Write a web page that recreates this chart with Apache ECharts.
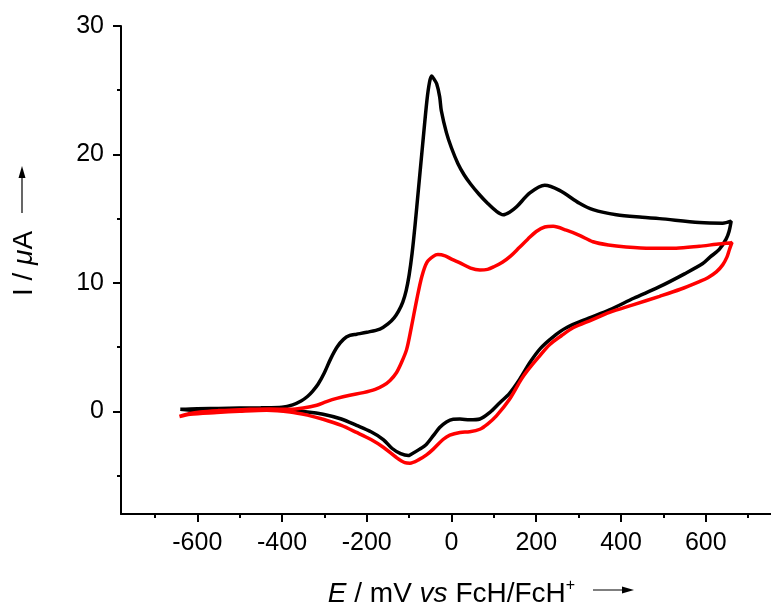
<!DOCTYPE html>
<html>
<head>
<meta charset="utf-8">
<script src="https://cdn.jsdelivr.net/npm/echarts@6/dist/echarts.min.js"></script>
<style>
  html, body { margin: 0; padding: 0; background: #fff; }
  #chart { width: 771px; height: 606px; }
</style>
</head>
<body>
<div id="chart"></div>
<script>
// Cyclic voltammograms: potential E (mV vs FcH/FcH+) and current I (µA)
const blackE = [-640, -600, -550, -500, -450, -400, -375, -355, -340, -328, -315, -300, -285, -270, -255, -240, -224, -200, -169, -150, -135, -125, -115, -107, -100, -93, -86, -78, -68, -58, -52, -47, -42, -35, -28, -24, -12, 0, 15, 30, 45, 65, 85, 105, 122, 137, 153, 185, 220, 255, 302, 334, 389, 450, 491, 585, 640, 660,
  655, 648, 632, 610, 593, 550, 491, 430, 373, 320, 271, 240, 210, 185, 161, 137, 114, 90, 67, 43, 20, 4, -12, -28, -43, -59, -75, -98, -102, -120, -140, -161, -190, -224, -260, -303, -340, -381, -430, -475, -550, -600, -640];
const blackI = [0.15, 0.2, 0.22, 0.25, 0.27, 0.32, 0.5, 0.8, 1.15, 1.55, 2.1, 3.0, 4.1, 5.0, 5.6, 5.9, 6.0, 6.15, 6.4, 6.8, 7.3, 7.8, 8.5, 9.4, 10.6, 12.3, 14.5, 17.3, 20.8, 24.2, 25.6, 26.1, 25.9, 25.5, 24.5, 23.4, 21.7, 20.5, 19.3, 18.4, 17.7, 16.9, 16.2, 15.6, 15.3, 15.5, 15.9, 17.0, 17.6, 17.2, 16.2, 15.7, 15.3, 15.1, 15.0, 14.7, 14.65, 14.8,
  14.0, 13.4, 12.6, 12.0, 11.5, 10.7, 9.7, 8.8, 7.9, 7.2, 6.5, 5.8, 4.9, 3.8, 2.5, 1.4, 0.67, -0.1, -0.6, -0.67, -0.6, -0.62, -0.83, -1.27, -1.9, -2.56, -2.95, -3.4, -3.45, -3.3, -2.9, -2.2, -1.6, -1.1, -0.6, -0.23, -0.05, 0.05, 0.1, 0.1, 0.05, 0.05, 0.15];

const redE = [-642, -620, -593, -550, -500, -475, -430, -381, -350, -318, -295, -271, -240, -208, -180, -161, -145, -130, -118, -106, -95, -82, -70, -58, -43, -32, -15, 0, 20, 45, 67, 85, 100, 120, 140, 160, 180, 200, 220, 240, 271, 302, 334, 370, 412, 470, 530, 585, 625, 656, 662,
  656, 650, 640, 625, 605, 585, 540, 491, 430, 373, 330, 287, 260, 232, 205, 180, 165, 137, 106, 85, 67, 43, 20, -4, -20, -43, -59, -75, -98, -110, -130, -161, -190, -224, -260, -303, -340, -381, -436, -500, -554, -617, -642];
const redI = [-0.41, -0.2, -0.05, 0.05, 0.12, 0.15, 0.17, 0.15, 0.25, 0.47, 0.75, 1.0, 1.25, 1.45, 1.7, 2.0, 2.4, 3.0, 3.8, 4.8, 6.5, 8.7, 10.5, 11.6, 12.06, 12.2, 12.1, 11.85, 11.55, 11.15, 11.0, 11.05, 11.25, 11.6, 12.1, 12.75, 13.4, 14.0, 14.35, 14.4, 14.1, 13.7, 13.2, 12.95, 12.8, 12.7, 12.7, 12.85, 13.0, 13.1, 13.15,
  12.6, 12.0, 11.4, 10.85, 10.4, 10.1, 9.5, 8.95, 8.3, 7.7, 7.1, 6.5, 5.9, 5.2, 4.2, 3.2, 2.5, 0.93, -0.36, -1.0, -1.4, -1.6, -1.65, -1.86, -2.2, -2.95, -3.4, -3.73, -4.04, -4.0, -3.6, -2.8, -2.2, -1.65, -1.1, -0.62, -0.3, -0.05, 0.08, 0.0, -0.1, -0.23, -0.41];

// Axis ticks
const xMajorTicks = [-600, -400, -200, 0, 200, 400, 600];
const xMinorTicks = [-700, -500, -300, -100, 100, 300, 500, 700];
const yMajorTicks = [0, 10, 20, 30];
const yMinorTicks = [-5, 5, 15, 25];

const FONT = 'Liberation Sans, Arial, Helvetica, sans-serif';
const pairs = (xs, ys) => xs.map((x, i) => [x, ys[i]]);

const chart = echarts.init(document.getElementById('chart'), null, { renderer: 'canvas' });

const tickStyle = { color: '#000', width: 2 };

// an axis that only carries tick marks at the given values
function tickAxis(range, values, length, position) {
  return {
    type: 'value', min: range[0], max: range[1], position: position,
    splitLine: { show: false },
    axisLine: { show: false, onZero: false },
    axisTick: { show: true, inside: false, length: length, customValues: values, lineStyle: tickStyle },
    axisLabel: { show: false }
  };
}

const xRange = [-780, 780];
const yRange = [-8, 30];

chart.setOption({
  animation: false,
  backgroundColor: '#fff',
  grid: { left: 121, top: 26, width: 661, height: 488, outerBoundsMode: 'none', containLabel: false },
  xAxis: [
    {
      type: 'value', min: xRange[0], max: xRange[1], position: 'bottom',
      splitLine: { show: false },
      axisLine: { show: true, onZero: false, lineStyle: { color: '#000', width: 2 } },
      axisTick: { show: false },
      axisLabel: { show: true, customValues: xMajorTicks, margin: 17, color: '#000', fontSize: 25, fontFamily: FONT },
      name: '{i|E} / mV {i|vs} FcH/FcH{sup|+}',
      nameLocation: 'middle',
      nameGap: 64,
      nameTextStyle: {
        color: '#000', fontSize: 28, fontFamily: FONT,
        rich: {
          i: { fontStyle: 'italic', fontSize: 28, fontFamily: FONT, color: '#000' },
          sup: { fontSize: 16, fontFamily: FONT, color: '#000', verticalAlign: 'top', padding: [0, 0, 16, 0] }
        }
      }
    },
    tickAxis(xRange, xMajorTicks, 8, 'bottom'),
    tickAxis(xRange, xMinorTicks, 4, 'bottom')
  ],
  yAxis: [
    {
      type: 'value', min: yRange[0], max: yRange[1], position: 'left',
      splitLine: { show: false },
      axisLine: { show: true, onZero: false, lineStyle: { color: '#000', width: 2 } },
      axisTick: { show: false },
      axisLabel: { show: true, customValues: yMajorTicks, margin: 17, color: '#000', fontSize: 25, fontFamily: FONT },
      name: 'I / {i|μ}A',
      nameLocation: 'middle',
      nameGap: 83,
      nameRotate: 90,
      nameTextStyle: {
        color: '#000', fontSize: 28, fontFamily: FONT, padding: [0, 0, 0, 13],
        rich: { i: { fontStyle: 'italic', fontSize: 28, fontFamily: FONT, color: '#000' } }
      }
    },
    tickAxis(yRange, yMajorTicks, 8, 'left'),
    tickAxis(yRange, yMinorTicks, 4, 'left')
  ],
  graphic: [
    // arrow after the potential axis title
    { type: 'line', shape: { x1: 593, y1: 590, x2: 626, y2: 590 }, style: { stroke: '#000', lineWidth: 1.2 } },
    { type: 'polygon', shape: { points: [[634, 590], [622, 586.5], [622, 593.5]] }, style: { fill: '#000' } },
    // arrow above the current axis title
    { type: 'line', shape: { x1: 22, y1: 213, x2: 22, y2: 175 }, style: { stroke: '#000', lineWidth: 1.2 } },
    { type: 'polygon', shape: { points: [[22, 166], [18.5, 178], [25.5, 178]] }, style: { fill: '#000' } }
  ],
  series: [
    {
      type: 'line', name: 'black', data: pairs(blackE, blackI),
      showSymbol: false, smooth: 0.3, z: 2,
      lineStyle: { color: '#000000', width: 3.5 }
    },
    {
      type: 'line', name: 'red', data: pairs(redE, redI),
      showSymbol: false, smooth: 0.3, z: 3,
      lineStyle: { color: '#ff0000', width: 3.5 }
    }
  ]
});
</script>
</body>
</html>
